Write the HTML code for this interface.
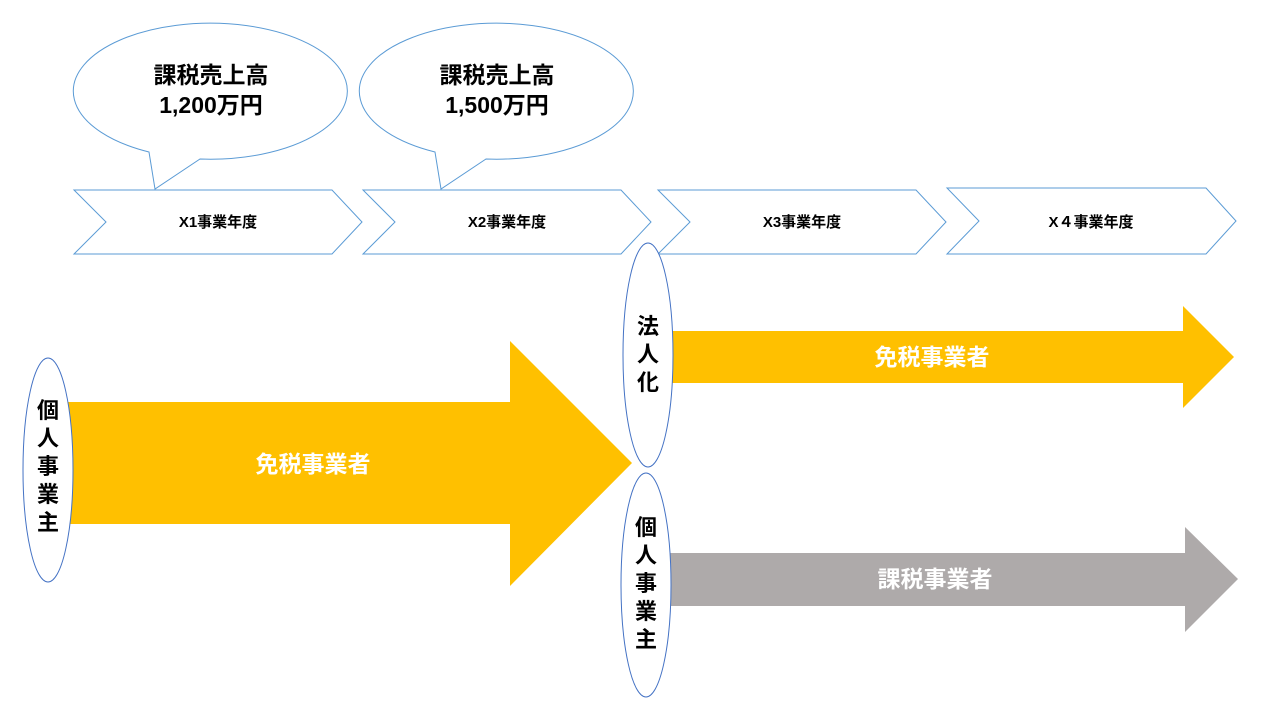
<!DOCTYPE html>
<html><head><meta charset="utf-8"><style>
html,body{margin:0;padding:0;background:#fff;}
svg{display:block;font-family:"Liberation Sans","Noto Sans CJK JP",sans-serif;}
</style></head><body>
<svg width="1280" height="720" viewBox="0 0 1280 720">
<g fill="#fff" stroke="#5b9bd5" stroke-width="1">
<path d="M149,152 A137,68 0 1 1 200,159 L155,189 Z"/>
<path d="M435,152 A137,68 0 1 1 486,159 L441,189 Z"/>
<polygon points="74,190 332,190 362,222 332,254 74,254 106,222"/>
<polygon points="363,190 621,190 651,222 621,254 363,254 395,222"/>
<polygon points="658,190 916,190 946,222 916,254 658,254 690,222"/>
<polygon points="947,188 1206,188 1236,221 1206,254 947,254 979,221"/>
</g>
<g font-weight="bold" font-size="23" text-anchor="middle" fill="#000">
<text x="211" y="83">課税売上高</text><text x="211" y="113">1,200万円</text>
<text x="497" y="83">課税売上高</text><text x="497" y="113">1,500万円</text>
</g>
<g font-weight="bold" font-size="15" text-anchor="middle" fill="#000">
<text x="218" y="227">X1事業年度</text>
<text x="507" y="227">X2事業年度</text>
<text x="802" y="227">X3事業年度</text>
<text x="1091" y="227">X４事業年度</text>
</g>
<polygon points="60,402 510,402 510,341 632,463 510,586 510,524 60,524" fill="#ffc000"/>
<polygon points="660,331 1183,331 1183,306 1234,357 1183,408 1183,383 660,383" fill="#ffc000"/>
<polygon points="660,553 1185,553 1185,527 1238,579 1185,632 1185,606 660,606" fill="#aeaaaa"/>
<g fill="#fff" stroke="#4472c4" stroke-width="1">
<ellipse cx="48" cy="470" rx="25" ry="112"/>
<ellipse cx="648" cy="355" rx="25" ry="112"/>
<ellipse cx="646" cy="585" rx="25" ry="112"/>
</g>
<g font-weight="bold" font-size="23" text-anchor="middle">
<text x="313" y="472" fill="#fff">免税事業者</text>
<text x="932" y="365" fill="#fff">免税事業者</text>
<text x="935" y="587" fill="#fff">課税事業者</text>
<g fill="#000" font-size="22">
<text x="48" y="418">個</text><text x="48" y="446">人</text><text x="48" y="474">事</text><text x="48" y="502">業</text><text x="48" y="530">主</text>
<text x="648" y="334">法</text><text x="648" y="362">人</text><text x="648" y="390">化</text>
<text x="646" y="535">個</text><text x="646" y="563">人</text><text x="646" y="591">事</text><text x="646" y="619">業</text><text x="646" y="647">主</text>
</g></g>
</svg>
</body></html>
